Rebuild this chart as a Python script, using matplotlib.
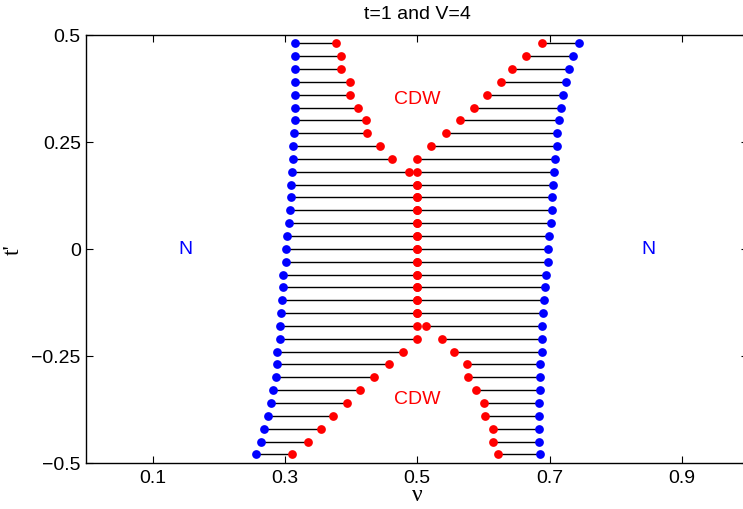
import matplotlib
matplotlib.use('Agg')
import matplotlib.pyplot as plt

# t' rows (top to bottom)
tp = [0.48, 0.45, 0.42, 0.39, 0.36, 0.33, 0.30, 0.27, 0.24, 0.21, 0.18,
      0.15, 0.12, 0.09, 0.06, 0.03, 0.00, -0.03, -0.06, -0.09, -0.12,
      -0.15, -0.18, -0.21, -0.24, -0.27, -0.30, -0.33, -0.36, -0.39,
      -0.42, -0.45, -0.48]

# N/CDW boundaries (blue) and inner CDW edges (red)
blue_left = [0.315, 0.315, 0.316, 0.316, 0.316, 0.316, 0.315, 0.314, 0.312,
             0.312, 0.311, 0.309, 0.309, 0.307, 0.306, 0.303, 0.302, 0.301,
             0.297, 0.297, 0.296, 0.294, 0.292, 0.292, 0.288, 0.288, 0.286,
             0.282, 0.279, 0.275, 0.269, 0.264, 0.256]
red_left = [0.378, 0.385, 0.385, 0.398, 0.399, 0.411, 0.422, 0.424, 0.444,
            0.462, 0.487, 0.5, 0.5, 0.5, 0.5, 0.5, 0.5, 0.5,
            0.5, 0.5, 0.5, 0.5, 0.5, 0.5, 0.478, 0.457, 0.434,
            0.414, 0.394, 0.373, 0.354, 0.335, 0.311]
red_right = [0.689, 0.664, 0.644, 0.626, 0.606, 0.586, 0.565, 0.543, 0.521,
             0.500, 0.500, 0.5, 0.5, 0.5, 0.5, 0.5, 0.5, 0.5,
             0.5, 0.5, 0.5, 0.5, 0.513, 0.537, 0.555, 0.575, 0.577,
             0.589, 0.601, 0.602, 0.615, 0.615, 0.622]
blue_right = [0.744, 0.736, 0.730, 0.725, 0.721, 0.717, 0.714, 0.712, 0.712,
              0.708, 0.707, 0.706, 0.704, 0.703, 0.702, 0.699, 0.698, 0.697,
              0.694, 0.693, 0.691, 0.690, 0.689, 0.688, 0.688, 0.686, 0.685,
              0.685, 0.684, 0.684, 0.684, 0.684, 0.685]

xticks = [0.1, 0.3, 0.5, 0.7, 0.9]
yticks = [-0.5, -0.25, 0, 0.25, 0.5]
ytick_labels = ['\u22120.5', '\u22120.25', '0', '0.25', '0.5']

plt.rcParams['font.family'] = ['Liberation Sans', 'DejaVu Sans']

fig = plt.figure(figsize=(7.43, 5.10), dpi=100)
ax = fig.add_axes([86.4 / 743, 46 / 510, 661.6 / 743, 428.3 / 510])

ax.hlines(tp, blue_left, red_left, color='k', lw=1)
ax.hlines(tp, red_right, blue_right, color='k', lw=1)
ax.plot(blue_left, tp, 'o', color='#0000ff', ms=6.3, mew=0)
ax.plot(blue_right, tp, 'o', color='#0000ff', ms=6.3, mew=0)
ax.plot(red_left, tp, 'o', color='#ff0000', ms=6.3, mew=0)
ax.plot(red_right, tp, 'o', color='#ff0000', ms=6.3, mew=0)

ax.text(0.5, 0.35, 'CDW', color='#ff0000', fontsize=14, ha='center', va='center')
ax.text(0.5, -0.35, 'CDW', color='#ff0000', fontsize=14, ha='center', va='center')
ax.text(0.15, 0, 'N', color='#0000ff', fontsize=14, ha='center', va='center')
ax.text(0.85, 0, 'N', color='#0000ff', fontsize=14, ha='center', va='center')

ax.set_xlim(0, 1)
ax.set_ylim(-0.5, 0.5)
ax.set_xticks(xticks)
ax.set_xticklabels([str(v) for v in xticks])
ax.set_yticks(yticks)
ax.set_yticklabels(ytick_labels)
ax.tick_params(direction='in', length=5, width=0.8, top=True, right=True,
               labelsize=14, pad=4)
for s in ax.spines.values():
    s.set_linewidth(1)

ax.set_title('t=1 and V=4', fontsize=14, pad=12)
ax.set_xlabel('\u03bd', fontsize=17, family='Liberation Serif')
ax.set_ylabel("t'", fontsize=17, family='Liberation Serif')
ax.xaxis.set_label_coords(0.5, -0.05)
ax.yaxis.set_label_coords(-0.095, 0.5)

fig.savefig('out.png', dpi=100)
